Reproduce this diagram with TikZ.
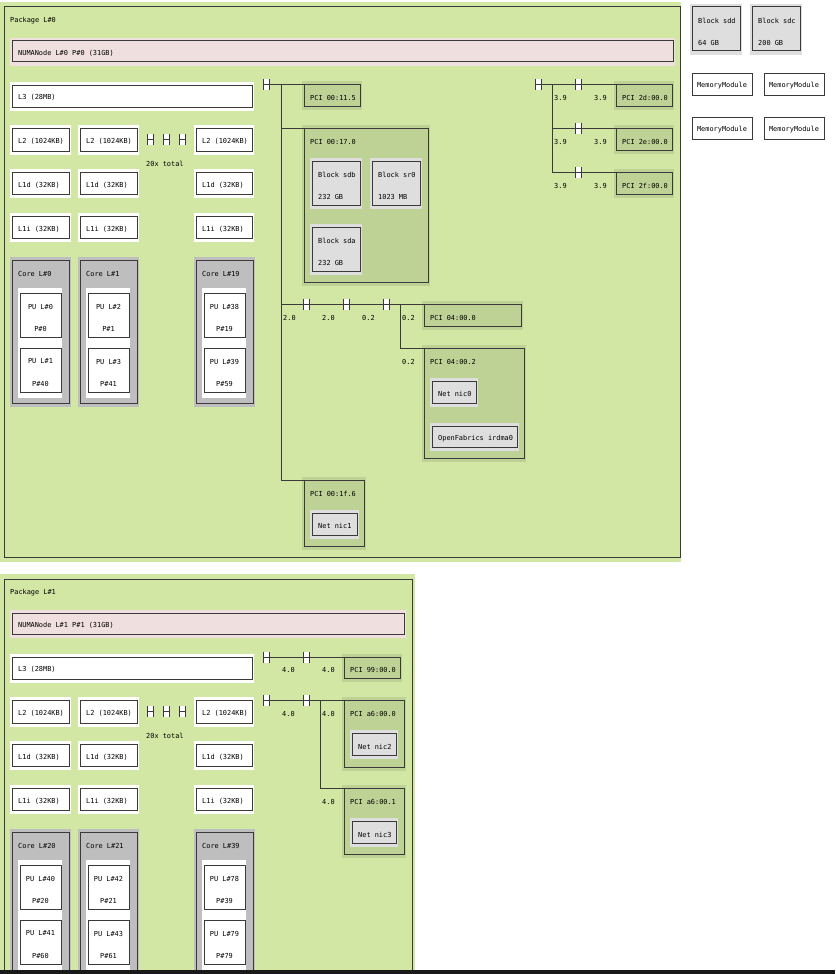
\documentclass[tikz,border=0pt]{standalone}
\usepackage{fontspec}
\setmonofont{DejaVu Sans Mono}
\definecolor{pkg}{HTML}{D2E7A4}
\definecolor{numa}{HTML}{EFDFDE}
\definecolor{pci}{HTML}{BFD296}
\definecolor{osd}{HTML}{DEDEDE}
\definecolor{core}{HTML}{BEBEBE}
\definecolor{ln}{HTML}{3A3A3A}
\newcounter{tcnt}
\tikzset{lbl/.style={inner sep=0pt,anchor=west,yshift=-1.5pt,font=\ttfamily\fontsize{6.9}{7}\selectfont,text=black},
  lblc/.style={lbl,anchor=center},
  bord/.style={draw=ln,line width=1pt},
  link/.style={draw=ln,line width=1pt}}
\newcommand\bx[5]{\fill[#5] ({#1-2},{#2-3}) rectangle ({#3+2},{#4+4});
  \draw[bord,fill=#5] (#1,#2) rectangle (#3,#4);}
\newcommand\tx[3]{\stepcounter{tcnt}\node[lbl] (t\arabic{tcnt}) at (#1,#2) {#3};}
\newcommand\txc[3]{\stepcounter{tcnt}\node[lblc] (t\arabic{tcnt}) at (#1,#2) {#3};}
\newcommand\br[2]{\fill[white] ({#1-3},{#2-5.5}) rectangle ({#1+3},{#2+5.5});
  \draw[ln,line width=0.8pt] ({#1-3},{#2-5.5}) -- ({#1-3},{#2+5.5}) ({#1+3},{#2-5.5}) -- ({#1+3},{#2+5.5}) ({#1-3},#2) -- ({#1+3},#2);}
\begin{document}
\begin{tikzpicture}[x=1pt,y=-1pt]
\useasboundingbox (0,0) rectangle (835,974);
\clip (0,0) rectangle (835,974);
\fill[white] (0,0) rectangle (835,974);
% packages
\fill[pkg] (0,2) rectangle (681,562);
\draw[bord] (4,7) rectangle (680,557);
\fill[pkg] (0,574) rectangle (415,980);
\draw[bord] (4,579) rectangle (412,990);
\tx{10}{19}{Package L\#0}
\tx{10}{591}{Package L\#1}
\bx{12}{41}{673}{62}{numa}\tx{18}{52}{NUMANode L\#0 P\#0 (31GB)}
\bx{12}{613}{404}{634}{numa}\tx{18}{624}{NUMANode L\#1 P\#1 (31GB)}
% caches
\foreach \dy in {0,572}{
  \bx{12}{85+\dy}{252}{107+\dy}{white}\tx{18}{96+\dy}{L3 (28MB)}
  \foreach \a/\b in {12/69,80/137,196/252}{
    \bx{\a}{128+\dy}{\b}{151+\dy}{white}\tx{\a+6}{140+\dy}{L2 (1024KB)}
    \bx{\a}{172+\dy}{\b}{194+\dy}{white}\tx{\a+6}{184+\dy}{L1d (32KB)}
    \bx{\a}{216+\dy}{\b}{238+\dy}{white}\tx{\a+6}{228+\dy}{L1i (32KB)}
  }
  \br{150}{139.5+\dy}\br{166}{139.5+\dy}\br{182}{139.5+\dy}
  \tx{146}{162+\dy}{20x total}
}
% cores
\foreach \dy/\lst in {0/{12/0/0/0/1/40,80/1/2/1/3/41,196/19/38/19/39/59},572/{12/20/40/20/41/60,80/21/42/21/43/61,196/39/78/39/79/79}}{
  \foreach \a/\c/\pa/\pb/\pc/\pd in \lst {
    \bx{\a}{260+\dy}{\a+57}{403+\dy}{core}
    \tx{\a+6}{272+\dy}{Core L\#\c}
    \fill[white] (\a+6,288+\dy) rectangle (\a+50,398+\dy);
    \draw[bord,fill=white] (\a+8,293+\dy) rectangle (\a+49,337+\dy);
    \draw[bord,fill=white] (\a+8,348+\dy) rectangle (\a+49,392+\dy);
    \txc{\a+28.5}{305+\dy}{PU L\#\pa}\txc{\a+28.5}{327+\dy}{P\#\pb}
    \txc{\a+28.5}{360+\dy}{PU L\#\pc}\txc{\a+28.5}{382+\dy}{P\#\pd}
  }
}
% ---- PCI tree package 0
\bx{304}{84}{360}{106}{pci}\tx{310}{96}{PCI 00:11.5}
\bx{304}{128}{428}{282}{pci}\tx{310}{140}{PCI 00:17.0}
\bx{312}{161}{360}{205}{osd}\tx{318}{173}{Block sdb}\tx{318}{195}{232 GB}
\bx{372}{161}{420}{205}{osd}\tx{378}{173}{Block sr0}\tx{378}{195}{1023 MB}
\bx{312}{227}{360}{271}{osd}\tx{318}{239}{Block sda}\tx{318}{261}{232 GB}
\bx{424}{304}{521}{326}{pci}\tx{430}{316}{PCI 04:00.0}
\bx{424}{348}{524}{458}{pci}\tx{430}{360}{PCI 04:00.2}
\bx{432}{381}{476}{403}{osd}\tx{438}{392}{Net nic0}
\bx{432}{426}{517}{447}{osd}\tx{438}{437}{OpenFabrics irdma0}
\bx{304}{480}{364}{546}{pci}\tx{310}{492}{PCI 00:1f.6}
\bx{312}{513}{357}{535}{osd}\tx{318}{524}{Net nic1}
\draw[link] (269,84) -- (304,84);
\draw[link] (281,84) -- (281,480) -- (304,480);
\draw[link] (281,128) -- (304,128);
\draw[link] (281,304) -- (424,304);
\draw[link] (400,304) -- (400,348) -- (424,348);
\br{266}{84.5}\br{306}{304}\br{346}{304}\br{386}{304}
\tx{283}{316}{2.0}\tx{322}{316}{2.0}\tx{362}{316}{0.2}\tx{402}{316}{0.2}\tx{402}{360}{0.2}
% right tree
\bx{616}{84}{672}{106}{pci}\tx{622}{96}{PCI 2d:00.0}
\bx{616}{128}{672}{150}{pci}\tx{622}{140}{PCI 2e:00.0}
\bx{616}{172}{672}{194}{pci}\tx{622}{184}{PCI 2f:00.0}
\draw[link] (541,84) -- (616,84);
\draw[link] (552,84) -- (552,172) -- (616,172);
\draw[link] (552,128) -- (616,128);
\br{538}{84.5}\br{578}{84}\br{578}{128}\br{578}{172}
\foreach \y in {96,140,184}{\tx{554}{\y}{3.9}\tx{594}{\y}{3.9}}
% right column
\bx{692}{7}{740}{51}{osd}\tx{698}{19}{Block sdd}\tx{698}{41}{64 GB}
\bx{752}{7}{800}{51}{osd}\tx{758}{19}{Block sdc}\tx{758}{41}{200 GB}
\foreach \x in {692,764}{\foreach \y in {73,117}{
  \draw[bord,fill=white] (\x,\y) rectangle (\x+60,\y+22);
  \txc{\x+30}{\y+11}{MemoryModule}}}
% ---- PCI tree package 1
\bx{344}{657}{400}{678}{pci}\tx{350}{668}{PCI 99:00.0}
\bx{344}{700}{404}{767}{pci}\tx{350}{712}{PCI a6:00.0}
\bx{352}{733}{396}{755}{osd}\tx{358}{745}{Net nic2}
\bx{344}{788}{404}{854}{pci}\tx{350}{800}{PCI a6:00.1}
\bx{352}{821}{396}{843}{osd}\tx{358}{833}{Net nic3}
\draw[link] (269,657) -- (344,657);
\draw[link] (269,700) -- (344,700);
\draw[link] (320,700) -- (320,788) -- (344,788);
\br{266}{657}\br{306}{657}\br{266}{700}\br{306}{700}
\tx{282}{668}{4.0}\tx{322}{668}{4.0}\tx{282}{712}{4.0}\tx{322}{712}{4.0}\tx{322}{800}{4.0}
% bottom bar
\fill[black!90] (0,970) rectangle (835,974);
\end{tikzpicture}
\end{document}
